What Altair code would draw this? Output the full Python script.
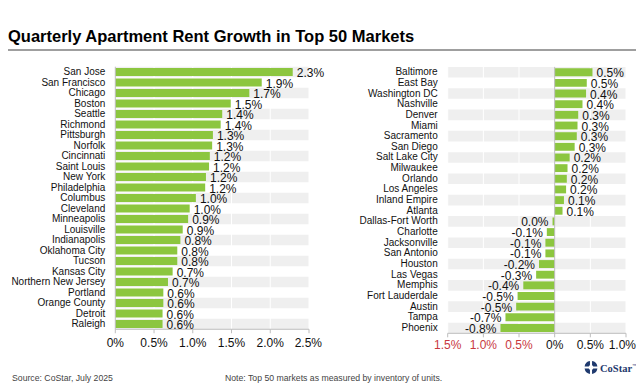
import altair as alt
import pandas as pd

# ---------------- data ----------------
left_names = ["San Jose", "San Francisco", "Chicago", "Boston", "Seattle", "Richmond",
              "Pittsburgh", "Norfolk", "Cincinnati", "Saint Louis", "New York",
              "Philadelphia", "Columbus", "Cleveland", "Minneapolis", "Louisville",
              "Indianapolis", "Oklahoma City", "Tucson", "Kansas City",
              "Northern New Jersey", "Portland", "Orange County", "Detroit", "Raleigh"]
left_values = [2.29, 1.89, 1.73, 1.49, 1.38, 1.36, 1.26, 1.25, 1.22, 1.21, 1.17, 1.16,
               1.04, 0.96, 0.94, 0.87, 0.84, 0.80, 0.80, 0.74, 0.68, 0.62, 0.62, 0.61, 0.61]
left_labels = ["2.3%", "1.9%", "1.7%", "1.5%", "1.4%", "1.4%", "1.3%", "1.3%", "1.2%",
               "1.2%", "1.2%", "1.2%", "1.0%", "1.0%", "0.9%", "0.9%", "0.8%", "0.8%",
               "0.8%", "0.7%", "0.7%", "0.6%", "0.6%", "0.6%", "0.6%"]

right_names = ["Baltimore", "East Bay", "Washington DC", "Nashville", "Denver", "Miami",
               "Sacramento", "San Diego", "Salt Lake City", "Milwaukee", "Orlando",
               "Los Angeles", "Inland Empire", "Atlanta", "Dallas-Fort Worth", "Charlotte",
               "Jacksonville", "San Antonio", "Houston", "Las Vegas", "Memphis",
               "Fort Lauderdale", "Austin", "Tampa", "Phoenix"]
right_values = [0.53, 0.45, 0.44, 0.39, 0.33, 0.32, 0.31, 0.28, 0.21, 0.18, 0.17, 0.16,
                0.13, 0.11, -0.03, -0.11, -0.13, -0.13, -0.22, -0.26, -0.44, -0.52,
                -0.54, -0.69, -0.76]
right_labels = ["0.5%", "0.5%", "0.4%", "0.4%", "0.3%", "0.3%", "0.3%", "0.3%", "0.2%",
                "0.2%", "0.2%", "0.2%", "0.1%", "0.1%", "0.0%", "-0.1%", "-0.1%", "-0.1%",
                "-0.2%", "-0.3%", "-0.4%", "-0.5%", "-0.5%", "-0.7%", "-0.8%"]

left_ticks = [0, 0.5, 1.0, 1.5, 2.0, 2.5]
left_tick_labels = ["0%", "0.5%", "1.0%", "1.5%", "2.0%", "2.5%"]
right_ticks = [-1.5, -1.0, -0.5, 0, 0.5, 1.0]
right_tick_labels = ["1.5%", "1.0%", "0.5%", "0%", "0.5%", "1.0%"]

TITLE = "Quarterly Apartment Rent Growth in Top 50 Markets"
SOURCE = "Source: CoStar, July 2025"
NOTE = "Note: Top 50 markets as measured by inventory of units."
logo_parts = [1, 1, 1, 1]

# ---------------- style ----------------
FONT = "Liberation Sans, Arial, sans-serif"
GREEN = "#8CC63F"
BAND = "#EFEFEF"
AXIS = "#BDBDBD"
RED = "#C8383E"
INK = "#111111"
NAVY = "#1F3A6E"


def panel(names, values, labels, ticks, tick_labels, xr, yr, name_x, tick_y, last_dx):
    df = pd.DataFrame({"name": names, "value": values, "label": labels,
                       "row": list(range(len(names)))})
    tdf = pd.DataFrame({"tick": ticks, "tlabel": tick_labels})
    one = pd.DataFrame({"z": [0]})
    xs = alt.Scale(domain=[ticks[0], ticks[-1]], range=xr, nice=False, zero=False)
    ys = alt.Scale(domain=names, range=yr, paddingInner=0, paddingOuter=0)
    Y = alt.Y("name:N", scale=ys, axis=None, sort=names)
    base = alt.Chart(df)
    tmax = ticks[-1]

    bands = base.transform_filter("datum.row % 2 == 0").mark_rect(color=BAND).encode(
        x=alt.X(datum=ticks[0], type="quantitative", scale=xs, axis=None),
        x2=alt.X2(datum=ticks[-1]),
        y=Y,
    )
    grid = alt.Chart(tdf).mark_rule(color="white", strokeWidth=1).encode(
        x=alt.X("tick:Q", scale=xs, axis=None),
        y=alt.value(yr[0]), y2=alt.value(yr[1]),
    )
    bars = base.mark_bar(color=GREEN, height={"band": 0.74}).encode(
        x=alt.X("value:Q", scale=xs, axis=None),
        x2=alt.X2(datum=0),
        y=Y,
    )
    zero = alt.Chart(one).mark_rule(color=AXIS, strokeWidth=1).encode(
        x=alt.X("z:Q", scale=xs, axis=None),
        y=alt.value(yr[0]), y2=alt.value(yr[1]),
    )
    axis_line = alt.Chart(one).mark_rule(color=AXIS, strokeWidth=1).encode(
        x=alt.X(datum=ticks[0], type="quantitative", scale=xs, axis=None),
        x2=alt.X2(datum=ticks[-1]),
        y=alt.value(yr[1]),
    )
    tick_marks = alt.Chart(tdf).mark_rule(color=AXIS, strokeWidth=1).encode(
        x=alt.X("tick:Q", scale=xs, axis=None),
        y=alt.value(yr[1]), y2=alt.value(yr[1] + 4),
    )
    tick_text = alt.Chart(tdf).transform_filter(f"datum.tick < {tmax}").mark_text(
        font=FONT, fontSize=12, baseline="middle"
    ).encode(
        x=alt.X("tick:Q", scale=xs, axis=None),
        y=alt.value(tick_y),
        text="tlabel:N",
        color=alt.condition("datum.tick < 0", alt.value(RED), alt.value(INK)),
    )
    tick_last = alt.Chart(tdf).transform_filter(f"datum.tick >= {tmax}").mark_text(
        font=FONT, fontSize=12, baseline="middle", align="right", dx=last_dx, color=INK
    ).encode(
        x=alt.X("tick:Q", scale=xs, axis=None),
        y=alt.value(tick_y),
        text="tlabel:N",
    )
    pos_lab = base.transform_filter("datum.value >= 0").mark_text(
        font=FONT, fontSize=12, align="left", baseline="middle", dx=4, dy=1, color=INK
    ).encode(x=alt.X("value:Q", scale=xs, axis=None), y=Y, text="label:N")
    neg_lab = base.transform_filter("datum.value < 0").mark_text(
        font=FONT, fontSize=12, align="right", baseline="middle", dx=-4, dy=1, color=INK
    ).encode(x=alt.X("value:Q", scale=xs, axis=None), y=Y, text="label:N")
    name_lab = base.mark_text(
        font=FONT, fontSize=10, align="right", baseline="middle", color=INK
    ).encode(x=alt.value(name_x), y=Y, text="name:N")

    return alt.layer(bands, grid, bars, zero, axis_line, tick_marks, tick_text,
                     tick_last, pos_lab, neg_lab, name_lab)


left = panel(left_names, left_values, left_labels, left_ticks, left_tick_labels,
             xr=[107.3, 301], yr=[58.75, 321.25], name_x=97.3, tick_y=335.3, last_dx=13)
right = panel(right_names, right_values, right_labels, right_ticks, right_tick_labels,
              xr=[439.7, 618], yr=[58.9, 325.3], name_x=429.7, tick_y=337, last_dx=10)

title = alt.Chart(pd.DataFrame({"t": [TITLE]})).mark_text(
    font=FONT, fontSize=16.5, fontWeight="bold", align="left", baseline="alphabetic",
    color="#000000"
).encode(x=alt.value(0), y=alt.value(34), text="t:N")

title_rule = alt.Chart(pd.DataFrame({"z": [0]})).mark_rule(
    color="#7F7F7F", strokeWidth=1.5
).encode(x=alt.value(0), x2=alt.value(628), y=alt.value(42))

source = alt.Chart(pd.DataFrame({"t": [SOURCE]})).mark_text(
    font=FONT, fontSize=8.7, align="left", baseline="middle", color="#444444"
).encode(x=alt.value(4), y=alt.value(370), text="t:N")

note = alt.Chart(pd.DataFrame({"t": [NOTE]})).mark_text(
    font=FONT, fontSize=8.7, align="left", baseline="middle", color="#444444"
).encode(x=alt.value(217), y=alt.value(370), text="t:N")

logo_icon = alt.Chart(pd.DataFrame({"p": logo_parts})).mark_arc(
    innerRadius=2.5, outerRadius=6.5, padAngle=0.3, color=NAVY
).encode(theta=alt.Theta("p:Q"), x=alt.value(583), y=alt.value(359.5))

logo_text = alt.Chart(pd.DataFrame({"t": ["CoStar"]})).mark_text(
    font="Liberation Serif, DejaVu Serif, serif", fontSize=10.5, fontWeight="bold",
    align="left", baseline="middle", color=NAVY
).encode(x=alt.value(592), y=alt.value(361), text="t:N")

logo_tm = alt.Chart(pd.DataFrame({"t": ["™"]})).mark_text(
    font=FONT, fontSize=4.5, align="left", baseline="middle", color=NAVY
).encode(x=alt.value(624), y=alt.value(358), text="t:N")

chart = alt.layer(
    left, right, title, title_rule, source, note, logo_icon, logo_text, logo_tm
).resolve_scale(x="independent", y="independent").properties(
    width=628, height=376, padding=0, autosize=alt.AutoSizeParams(type="none")
).configure_view(stroke=None)

chart.save("out.html", embed_options={"renderer": "svg", "actions": False})
